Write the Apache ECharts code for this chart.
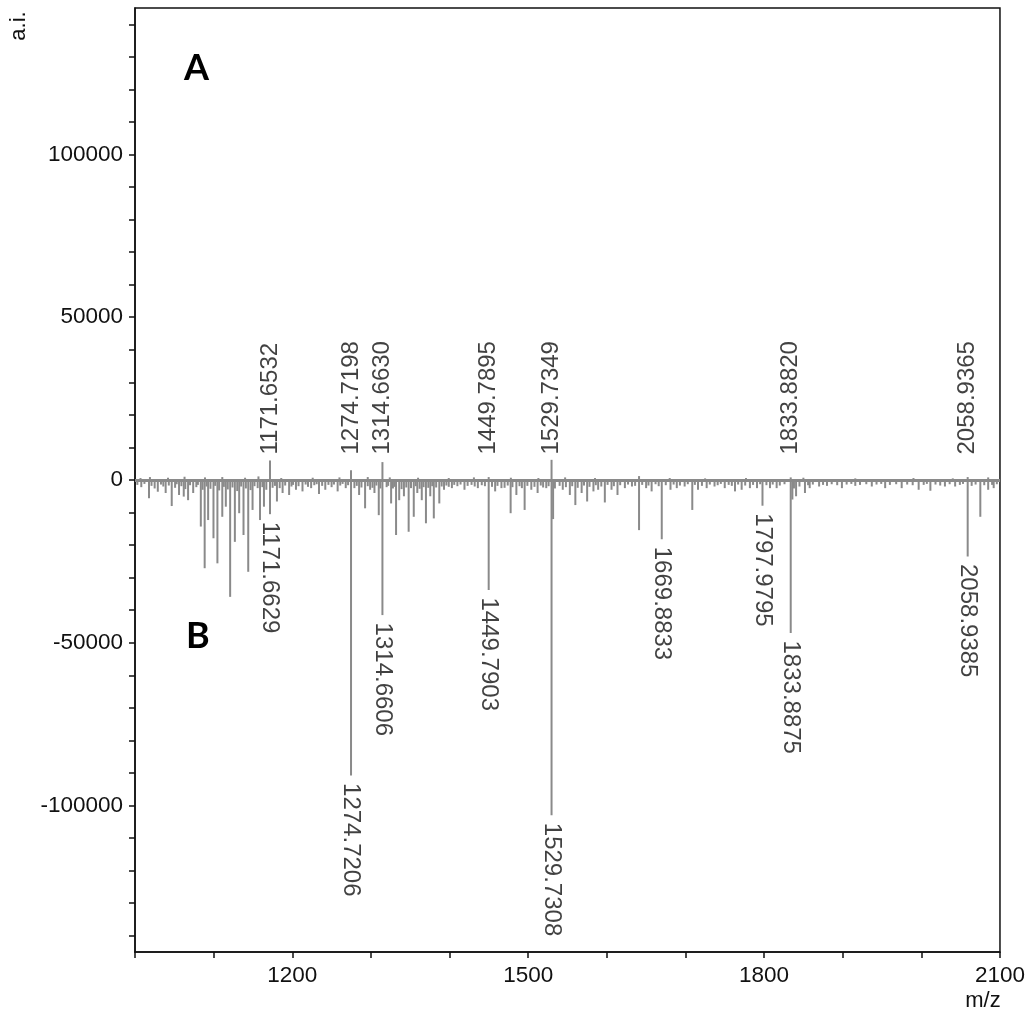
<!DOCTYPE html>
<html>
<head>
<meta charset="utf-8">
<script src="https://cdn.jsdelivr.net/npm/echarts@6/dist/echarts.min.js"></script>
<style>
html,body{margin:0;padding:0;background:#fff;}
#chart{width:1028px;height:1015px;}
</style>
</head>
<body>
<div id="chart"></div>
<script>
// ---- Axis ticks / labels ----
var xTickValues = [1000, 1100, 1200, 1300, 1400, 1500, 1600, 1700, 1800, 1900, 2000, 2100];
var xLabelValues = [1200, 1500, 1800, 2100];
var yTickValues = [-140000, -130000, -120000, -110000, -100000, -90000, -80000, -70000, -60000, -50000, -40000, -30000, -20000, -10000, 0,
  10000, 20000, 30000, 40000, 50000, 60000, 70000, 80000, 90000, 100000, 110000, 120000, 130000, 140000];
var yLabelValues = [-100000, -50000, 0, 50000, 100000];

// ---- Spectrum A (upper, labelled peaks) ----
var peakA_mz = [1171.6532, 1274.7198, 1314.6630, 1449.7895, 1529.7349, 1833.8820, 2058.9365];
var peakA_int = [6000, 3000, 5500, 900, 6200, 800, 900];
var peakA_text = ['1171.6532', '1274.7198', '1314.6630', '1449.7895', '1529.7349', '1833.8820', '2058.9365'];

// small upward noise of spectrum A
var noiseA = [[1007, 600], [1019, 900], [1042, 700], [1063, 1000], [1089, 800], [1111, 900], [1140, 700], [1157, 1100],
  [1186, 600], [1226, 700], [1260, 800], [1296, 900], [1324, 800], [1360, 700], [1399, 600], [1431, 800],
  [1478, 700], [1513, 600], [1547, 800], [1585, 600], [1641, 1200], [1680, 600], [1725, 500], [1777, 600],
  [1850, 700], [1916, 500], [1990, 600], [2040, 500], [2085, 800]];

// ---- Spectrum B (lower, negative, labelled peaks) ----
var peakB_mz = [1171.6629, 1274.7206, 1314.6606, 1449.7903, 1529.7308, 1669.8833, 1797.9795, 1833.8875, 2058.9385];
var peakB_int = [-10500, -90800, -41500, -33800, -103000, -18200, -7900, -47000, -23500];
var peakB_text = ['1171.6629', '1274.7206', '1314.6606', '1449.7903', '1529.7308', '1669.8833', '1797.9795', '1833.8875', '2058.9385'];

// other visible peaks of spectrum B
var otherB = [[1017.8, -5600], [1029, -3600], [1039, -4000], [1046.7, -8000], [1056, -4600], [1062, -5100], [1067.5, -6200],
  [1074, -4000], [1083.7, -14300], [1088.6, -27100], [1093, -12300], [1099.8, -17900], [1104.8, -25600], [1111, -11300],
  [1115.5, -8200], [1121, -35900], [1127, -19000], [1132.5, -10200], [1138, -16900], [1144, -28200], [1149.5, -9200],
  [1159, -12300], [1164, -8200], [1180.5, -6600], [1187.7, -4000], [1196, -4600], [1204.7, -3000], [1213, -3500],
  [1224, -2500], [1234, -4300], [1242, -3000], [1257.7, -3500], [1268, -2500],
  [1285, -4600], [1292.6, -8700], [1299, -3000], [1304.5, -4000], [1310, -10800], [1325.7, -7200], [1332, -16900],
  [1336, -6200], [1342, -5000], [1348, -15900], [1354.5, -11300], [1359, -4000], [1364.7, -6200], [1370, -13300],
  [1375.5, -5000], [1380, -11800], [1387, -7200], [1393, -3000], [1403, -2500], [1419, -3000], [1436, -2500],
  [1458, -3500], [1466, -2500], [1477.7, -10200], [1485, -4600], [1495.5, -9200], [1504, -3000], [1512, -4000],
  [1523, -2500], [1531.7, -12000],
  [1544, -3000], [1553, -4600], [1560, -7700], [1568, -4000], [1575, -6600], [1583, -3500], [1589, -3000],
  [1597.5, -6900], [1606, -3000], [1613.6, -4600], [1623, -2500], [1632, -2000], [1641, -15400], [1650, -2500],
  [1657, -3500], [1681, -3000], [1689, -2500], [1699, -2000], [1708.7, -9200], [1716, -3000], [1727, -2500],
  [1737, -2000], [1750, -2500], [1763, -3500], [1771.5, -3000], [1782, -2500], [1791, -2500], [1807.5, -2500],
  [1816, -2500],
  [1836, -6000], [1840.7, -5000], [1852, -4000], [1858, -2500], [1870, -2000], [1880, -1800], [1899, -2500],
  [1916, -1800], [1937, -2000], [1954, -2500], [1975, -2500], [1996.6, -3000], [2011.5, -3300], [2030, -2000],
  [2043, -2000], [2075, -11300], [2085, -3000], [2092, -2500]];

// baseline noise of spectrum B
var noiseB = [[1003, -1500], [1008, -2200], [1012, -1200], [1021, -1800], [1025, -2600], [1033, -1400], [1036, -2000],
  [1043, -1700], [1051, -2400], [1053, -1300], [1059, -1900], [1064, -2800], [1070, -1600], [1078, -2200], [1080, -1500],
  [1086, -3000], [1091, -2000], [1096, -2700], [1102, -1800], [1107, -3200], [1113, -2100], [1118, -2900], [1124, -2300],
  [1130, -3400], [1135, -2000], [1141, -2600], [1147, -3100], [1152, -1900], [1156, -2500], [1162, -2200], [1167, -3000],
  [1175, -2400], [1178, -1800], [1184, -2500], [1191, -1700], [1199, -2000], [1201, -1500], [1208, -1900], [1217, -1400],
  [1220, -2100], [1228, -1600], [1231, -1300], [1238, -1800], [1246, -1500], [1250, -2200], [1253, -1400], [1261, -1700],
  [1264, -1200], [1271, -1600], [1279, -2500], [1282, -1800], [1288, -2300], [1296, -1900], [1302, -2400], [1307, -1700],
  [1312, -2600], [1320, -2200], [1322, -1800], [1328, -2600], [1330, -2100], [1339, -2800], [1345, -2300], [1351, -2500],
  [1357, -1900], [1362, -2700], [1367, -2200], [1373, -2400], [1378, -1900], [1383, -2300], [1390, -2000], [1396, -1700],
  [1399, -2100], [1406, -1500], [1410, -1900], [1414, -1400], [1423, -1800], [1428, -1500], [1432, -2000], [1441, -1600],
  [1445, -1900], [1454, -2100], [1461, -1800], [1470, -2400], [1474, -1700], [1480, -2200], [1489, -1900], [1492, -2500],
  [1499, -1800], [1508, -2100], [1516, -1700], [1519, -2300], [1526, -1900], [1534, -2600], [1540, -1800], [1548, -2200],
  [1556, -1900], [1563, -2400], [1571, -1700], [1578, -2100], [1586, -1600], [1593, -2000], [1601, -1500], [1609, -1900],
  [1617, -1600], [1627, -1400], [1636, -1800], [1645, -1500], [1653, -1700], [1662, -1300], [1666, -1900], [1675, -1600],
  [1685, -1400], [1693, -1700], [1703, -1300], [1712, -1500], [1721, -1800], [1731, -1400], [1741, -1600], [1745, -1200],
  [1755, -1500], [1759, -1800], [1767, -1400], [1776, -1700], [1786, -1500], [1795, -1300], [1803, -1600], [1811, -1400],
  [1820, -1700], [1826, -1300], [1838, -2600], [1845, -2000], [1856, -1600], [1862, -1400], [1875, -1500], [1886, -1300],
  [1893, -1600], [1905, -1400], [1911, -1200], [1922, -1500], [1930, -1300], [1943, -1400], [1949, -1200], [1960, -1500],
  [1968, -1300], [1982, -1400], [1989, -1600], [2003, -1500], [2007, -1200], [2018, -1400], [2024, -1700], [2036, -1300],
  [2049, -1500], [2053, -1200], [2064, -1800], [2069, -1400], [2080, -1600], [2090, -1500], [2096, -1300]];

// ---- build data ----
var stickData = [];
noiseB.forEach(function (p) { stickData.push(p); });
noiseA.forEach(function (p) { stickData.push(p); });
otherB.forEach(function (p) { stickData.push(p); });
peakA_mz.forEach(function (m, i) { stickData.push([m, peakA_int[i]]); });
peakB_mz.forEach(function (m, i) { stickData.push([m, peakB_int[i]]); });

var labelA = peakA_mz.map(function (m, i) { return { value: [m, 0], name: peakA_text[i] }; });
var labelB = peakB_mz.map(function (m, i) { return { value: [m, peakB_int[i]], name: peakB_text[i] }; });

var FONT = 'Liberation Sans, Arial, sans-serif';
var TXT = '#111';
var GRAY = '#8a8a8a';

var chart = echarts.init(document.getElementById('chart'), null, { renderer: 'canvas' });
chart.setOption({
  animation: false,
  backgroundColor: '#fff',
  grid: { left: 135, right: 28, top: 8, bottom: 63, show: true, borderColor: '#111', borderWidth: 1.5, backgroundColor: 'transparent' },
  xAxis: {
    type: 'value', min: 1000, max: 2100, interval: 100,
    axisLine: { onZero: false, lineStyle: { color: '#111', width: 1.5 } },
    axisTick: { show: true, inside: false, length: 6, customValues: xTickValues, lineStyle: { color: '#111', width: 1.5 } },
    axisLabel: { customValues: xLabelValues, fontSize: 22.5, fontFamily: FONT, color: TXT, margin: 12,
      formatter: function (v) { return String(v); } },
    splitLine: { show: false }
  },
  yAxis: {
    type: 'value', min: -145000, max: 145000, interval: 5000,
    axisLine: { show: true, lineStyle: { color: '#111', width: 1.5 } },
    axisTick: { show: true, inside: false, length: 6, customValues: yTickValues, lineStyle: { color: '#111', width: 1.5 } },
    axisLabel: { customValues: yLabelValues, fontSize: 22.5, fontFamily: FONT, color: TXT, margin: 12,
      formatter: function (v) { return String(v); } },
    splitLine: { show: false }
  },
  graphic: [
    { type: 'text', x: 19, y: 26, rotation: Math.PI / 2,
      style: { text: 'a.i.', font: '22px ' + FONT, fill: TXT, textAlign: 'center', textVerticalAlign: 'middle' } },
    { type: 'text', x: 983, y: 1001,
      style: { text: 'm/z', font: '22px ' + FONT, fill: TXT, textAlign: 'center', textVerticalAlign: 'middle' } },
    { type: 'text', x: 184, y: 68,
      style: { text: 'A', font: 'bold 36px Lato, ' + FONT, fill: '#000', textAlign: 'left', textVerticalAlign: 'middle' } },
    { type: 'text', x: 186, y: 636,
      style: { text: 'B', font: 'bold 36px Lato, ' + FONT, fill: '#000', textAlign: 'left', textVerticalAlign: 'middle' } }
  ],
  series: [
    {
      type: 'bar', data: stickData, barWidth: 2, silent: true,
      itemStyle: { color: GRAY },
      markLine: {
        silent: true, symbol: 'none', label: { show: false },
        lineStyle: { color: GRAY, width: 3, type: 'solid' },
        data: [{ yAxis: 0 }]
      }
    },
    {
      type: 'scatter', data: labelA, symbolSize: 1, silent: true,
      itemStyle: { color: 'rgba(0,0,0,0)' },
      label: { show: true, formatter: '{b}', position: 'top', distance: 25, rotate: 90,
        align: 'left', verticalAlign: 'middle', fontSize: 24, fontFamily: FONT, color: TXT }
    },
    {
      type: 'scatter', data: labelB, symbolSize: 1, silent: true,
      itemStyle: { color: 'rgba(0,0,0,0)' },
      label: { show: true, formatter: '{b}', position: 'bottom', distance: 7, rotate: -90,
        align: 'left', verticalAlign: 'middle', fontSize: 24, fontFamily: FONT, color: TXT }
    }
  ]
});
</script>
</body>
</html>
